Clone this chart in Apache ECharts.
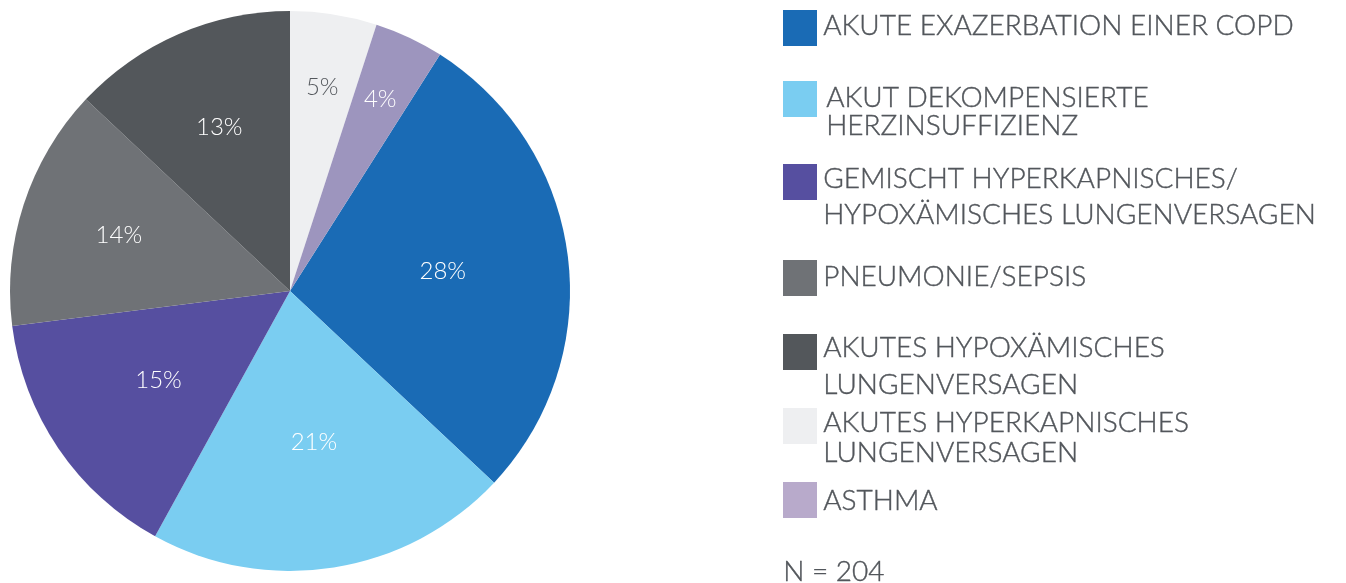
<!DOCTYPE html>
<html><head><meta charset="utf-8">
<script src="https://cdn.jsdelivr.net/npm/echarts@6/dist/echarts.min.js"></script>
<style>html,body{margin:0;padding:0;background:#fff}#c{width:1346px;height:583px}</style>
</head><body><div id="c"></div>
<script>
// ---- data ----
const categories = [
  'AKUTE EXAZERBATION EINER COPD',
  'AKUT DEKOMPENSIERTE\nHERZINSUFFIZIENZ',
  'GEMISCHT HYPERKAPNISCHES/\nHYPOXÄMISCHES LUNGENVERSAGEN',
  'PNEUMONIE/SEPSIS',
  'AKUTES HYPOXÄMISCHES\nLUNGENVERSAGEN',
  'AKUTES HYPERKAPNISCHES\nLUNGENVERSAGEN',
  'ASTHMA'
];
const values = [28, 21, 15, 14, 13, 5, 4];
const sampleNote = 'N = 204';

// ---- styles / layout ----
const sliceColors = ['#1a6bb5', '#7acdf1', '#564fa0', '#6f7276', '#53575b', '#eeeff1', '#9d95be'];
const swatchColors = ['#1a6bb5', '#7acdf1', '#564fa0', '#6f7276', '#53575b', '#eeeff1', '#b8aacb'];
const labelColors = ['#fff', '#fff', '#fff', '#fff', '#fff', '#54585d', '#fff'];
const labelRadius = [151, 150, 156, 177, 175, 203, 209];
const swatchTops = [10, 81, 164, 260, 334, 408, 482];
const lineCapTops = [[16], [88, 116], [169, 205], [267], [338, 375], [413, 443], [491]];
const textX = [823, 826, 823, 823, 823, 823, 823];
const FONT = 'Lato';
const TEXT_COLOR = '#52565b';
const R = 280, CX = 290, CY = 291;

const total = values.reduce((a, b) => a + b, 0);
const lead = values[5] + values[6];
const startAngle = 90 - 360 * lead / total;

let cum = 0;
const pieData = values.map((v, i) => {
  const startFromTop = (90 - startAngle) + 360 * cum / total;
  const mid = startFromTop + 180 * v / total;
  cum += v;
  const t = mid * Math.PI / 180;
  const d = labelRadius[i] - R / 2;
  return {
    name: categories[i], value: v,
    itemStyle: { color: sliceColors[i] },
    label: { color: labelColors[i], offset: [d * Math.sin(t), -d * Math.cos(t)] }
  };
});

const CAP_SHIFT = 4; // distance from text box top to cap top
const LEG_FONT = '300 28px ' + FONT;
const graphic = [];
categories.forEach((c, i) => {
  graphic.push({ type: 'rect', left: 783, top: swatchTops[i], shape: { width: 34, height: 36 }, style: { fill: swatchColors[i] }, silent: true });
  c.split('\n').forEach((line, j) => {
    graphic.push({ type: 'text', left: textX[i], top: lineCapTops[i][j] - CAP_SHIFT,
      style: { text: line, fill: TEXT_COLOR, font: LEG_FONT, stroke: TEXT_COLOR, lineWidth: 0.4 }, silent: true });
  });
});
graphic.push({ type: 'text', left: 783, top: 562 - CAP_SHIFT, style: { text: sampleNote, fill: TEXT_COLOR, font: LEG_FONT, stroke: TEXT_COLOR, lineWidth: 0.4 }, silent: true });

const chart = echarts.init(document.getElementById('c'), null, { renderer: 'canvas' });
chart.setOption({
  animation: false,
  backgroundColor: '#fff',
  graphic: graphic,
  series: [{
    type: 'pie',
    center: [CX, CY],
    radius: R,
    startAngle: startAngle,
    clockwise: true,
    avoidLabelOverlap: false,
    emphasis: { disabled: true },
    label: { show: true, position: 'inner', formatter: '{c}%', fontFamily: FONT, fontWeight: 300, fontSize: 24 },
    labelLine: { show: false },
    data: pieData
  }]
});
</script></body></html>
